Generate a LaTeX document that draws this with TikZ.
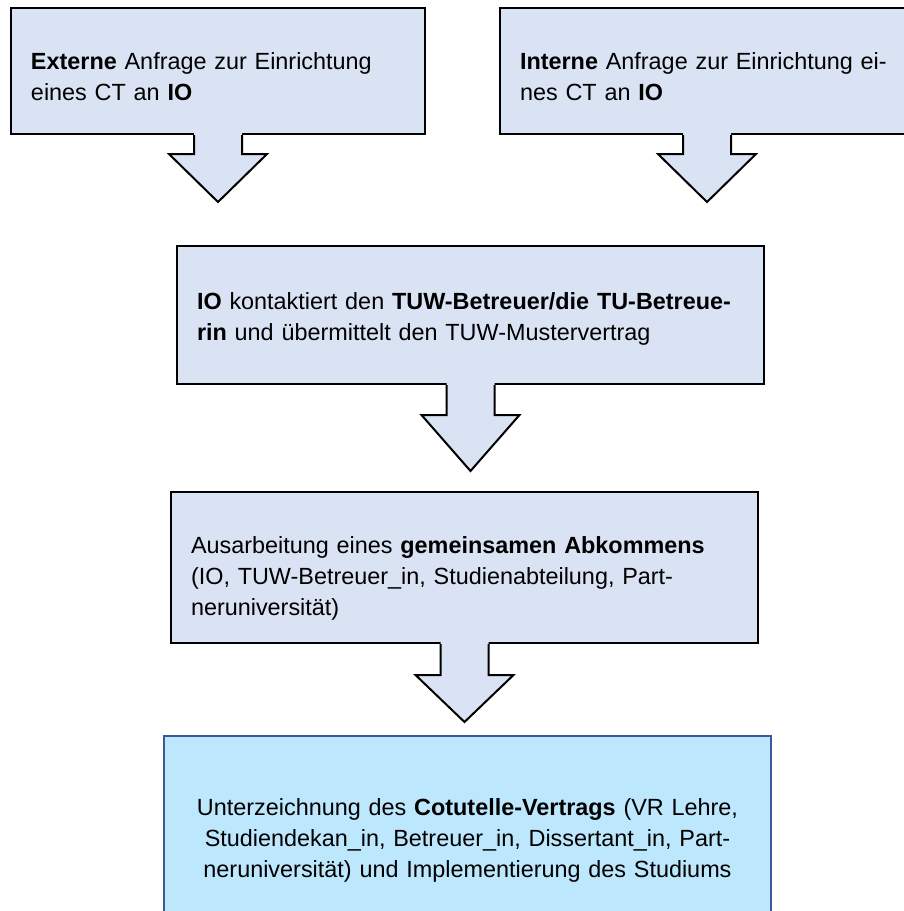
\documentclass[tikz,border=0pt]{standalone}
\usepackage{fontspec}
\setmainfont{Liberation Sans}
\usetikzlibrary{calc}
\definecolor{calloutfill}{RGB}{218,227,243}
\definecolor{finalfill}{RGB}{189,231,252}
\definecolor{finaldraw}{RGB}{59,89,152}

\begin{document}
\begin{tikzpicture}[x=0.5pt, y=-0.5pt,
    callout/.style={draw=black, line width=1pt, fill=calloutfill, anchor=north west, inner xsep=10pt, inner ysep=0pt, align=left, font=\fontsize{11.7}{15.5}\selectfont},
    finalbox/.style={callout, draw=finaldraw, fill=finalfill, align=center}]
    \useasboundingbox (0,0) rectangle (904,911);
    \node[callout, text width=187pt, text height=30.5pt, text depth=32.5pt] (ext) at (10,7) {\textbf{Externe} Anfrage zur Einrichtung\\eines CT an \textbf{IO}};
    \node[callout, text width=187pt, text height=30.5pt, text depth=32.5pt] (int) at (499,7) {\textbf{Interne} Anfrage zur Einrichtung ei-\\nes CT an \textbf{IO}};
    \node[callout, text width=273.5pt, text height=31.5pt, text depth=37.5pt] (kontakt) at (176,245) {\textbf{IO} kontaktiert den \textbf{TUW-Betreuer/die TU-Betreue-}\\\textbf{rin} und übermittelt den TUW-Mustervertrag};
    \node[callout, text width=273.5pt, text height=30.5pt, text depth=45pt] (abkommen) at (170,491) {Ausarbeitung eines \textbf{gemeinsamen Abkommens}\\(IO, TUW-Betreuer\_in, Studienabteilung, Part-\\neruniversität)};
    \node[finalbox, text width=283.5pt, text height=39.5pt, text depth=63.5pt] (vertrag) at (163,735) {Unterzeichnung des \textbf{Cotutelle-Vertrags} (VR Lehre,\\Studiendekan\_in, Betreuer\_in, Dissertant\_in, Part-\\neruniversität) und Implementierung des Studiums};
    \foreach \n/\s/\h in {ext/19/48, int/19/48, kontakt/30/56, abkommen/31/47} {
        \fill[calloutfill] ($(\n.south)+(-24,-2)$) -- ++(0,\s+2) -- ++(-25,0) -- ++(49,\h) -- ++(49,-\h) -- ++(-25,0) -- ++(0,-\s-2) -- cycle;
        \draw[line width=1pt] ($(\n.south)+(-24,0)$) -- ++(0,\s) -- ++(-25,0) -- ++(49,\h) -- ++(49,-\h) -- ++(-25,0) -- ++(0,-\s);
    }
\end{tikzpicture}
\end{document}
